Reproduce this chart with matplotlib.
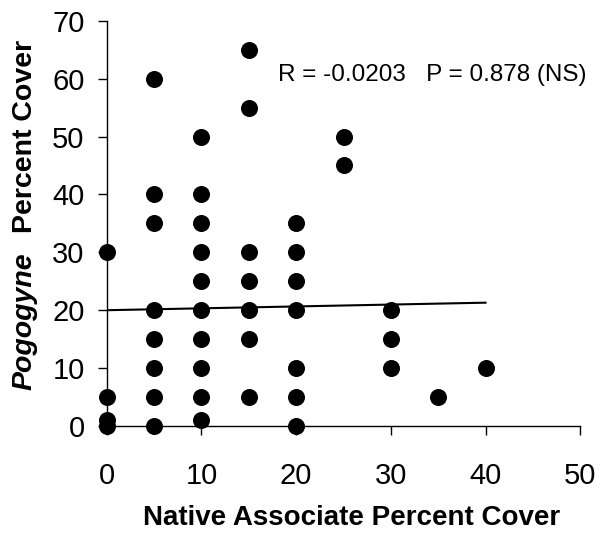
import matplotlib
matplotlib.use("Agg")
import matplotlib.pyplot as plt

plt.rcParams['font.family'] = ['Liberation Sans', 'DejaVu Sans']

# native associate cover (x) and Pogogyne cover (y)
native_cover = [0, 0, 0, 0,
                5, 5, 5, 5, 5, 5, 5, 5,
                10, 10, 10, 10, 10, 10, 10, 10, 10, 10,
                15, 15, 15, 15, 15, 15, 15,
                20, 20, 20, 20, 20, 20, 20,
                25, 25,
                30, 30, 30,
                35,
                40]
pogogyne_cover = [30, 5, 1, 0,
                  60, 40, 35, 20, 15, 10, 5, 0,
                  50, 40, 35, 30, 25, 20, 15, 10, 5, 1,
                  65, 55, 30, 25, 20, 15, 5,
                  35, 30, 25, 20, 10, 5, 0,
                  50, 45,
                  20, 15, 10,
                  5,
                  10]

# fitted trend line end points
fit_x = [0, 40]
fit_y = [20.0, 21.3]

stats_text = "R = -0.0203   P = 0.878 (NS)"

fig = plt.figure(figsize=(6, 5.33), dpi=100)
ax = fig.add_axes([0.178, 0.2008, 0.789, 0.7602])

ax.scatter(native_cover, pogogyne_cover, s=150, color='black', zorder=3,
           clip_on=False, linewidths=0)
ax.plot(fit_x, fit_y, color='black', lw=1.5, zorder=2)

ax.set_xlim(0, 50)
ax.set_ylim(0, 70)
ax.set_xticks(range(0, 51, 10))
ax.set_yticks(range(0, 71, 10))

for side in ['top', 'right']:
    ax.spines[side].set_visible(False)
for side in ['left', 'bottom']:
    ax.spines[side].set_linewidth(1.0)
    ax.spines[side].set_color('black')

ax.tick_params(axis='x', direction='out', length=6.5, width=1, pad=19.5, labelsize=21)
ax.tick_params(axis='y', direction='out', length=6.5, width=1, pad=9.5, labelsize=21)

ax.set_xlabel("Native Associate Percent Cover", fontsize=20, fontweight='bold',
              labelpad=11)
ax.xaxis.label.set_x(0.518)

# y label in two parts: italic genus name + plain text
fig.text(25 / 600, 1 - 390 / 533, "Pogogyne", rotation=90, ha='center',
         va='bottom', fontsize=20.5, fontweight='bold', style='italic')
fig.text(25 / 600, 1 - 233 / 533, "Percent Cover", rotation=90, ha='center',
         va='bottom', fontsize=20.5, fontweight='bold')

ax.text(278 / 600, 1 - 75 / 533, stats_text, transform=fig.transFigure,
        ha='left', va='center', fontsize=17.5)

fig.savefig("out.png", dpi=100)
